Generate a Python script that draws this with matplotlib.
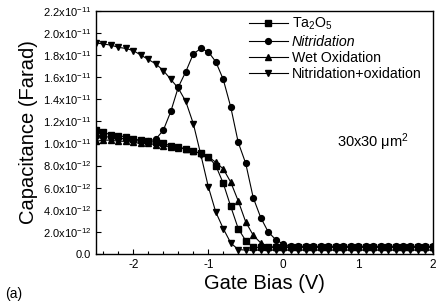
import numpy as np
import matplotlib
matplotlib.use("Agg")
import matplotlib.pyplot as plt
from matplotlib.ticker import MultipleLocator, FixedLocator

plt.rcParams['font.family'] = ['Liberation Sans', 'DejaVu Sans']
plt.rcParams['mathtext.fontset'] = 'custom'
plt.rcParams['mathtext.rm'] = 'Liberation Sans'
plt.rcParams['mathtext.it'] = 'Liberation Sans:italic'
plt.rcParams['axes.unicode_minus'] = False

# Gate bias grid (V), 0.1 V steps
bias = np.round(np.arange(-2.5, 2.0001, 0.1), 2)

# Capacitance in units of 1e-11 F
ta2o5_head = [1.12, 1.10, 1.08, 1.07, 1.06, 1.04, 1.03, 1.02, 1.01, 1.00,
              0.98, 0.97, 0.95, 0.93, 0.91, 0.88, 0.80, 0.64, 0.43, 0.23,
              0.12, 0.06]
nitr_head = [1.07, 1.06, 1.06, 1.05, 1.04, 1.03, 1.02, 1.02, 1.04, 1.12,
             1.29, 1.51, 1.65, 1.81, 1.86, 1.83, 1.74, 1.58, 1.33, 1.01,
             0.82, 0.51, 0.33, 0.20, 0.13, 0.09]
wet_head = [1.02, 1.03, 1.03, 1.02, 1.02, 1.01, 1.00, 1.00, 0.99, 0.98,
            0.97, 0.96, 0.95, 0.93, 0.91, 0.88, 0.83, 0.77, 0.65, 0.48,
            0.29, 0.17, 0.10]
nitrox_head = [1.91, 1.90, 1.89, 1.87, 1.86, 1.84, 1.80, 1.76, 1.72, 1.66,
               1.58, 1.50, 1.38, 1.18, 0.90, 0.61, 0.38, 0.23, 0.10, 0.04]

ta2o5 = ta2o5_head + [0.06] * (len(bias) - len(ta2o5_head))
nitridation = nitr_head + [0.07] * (len(bias) - len(nitr_head))
wet_ox = wet_head + [0.065] * (len(bias) - len(wet_head))
nitr_ox = nitrox_head + [0.035] * (len(bias) - len(nitrox_head))

series = [
    (ta2o5, 's', r'Ta$_2$O$_5$'),
    (nitridation, 'o', 'Nitridation'),
    (wet_ox, '^', 'Wet Oxidation'),
    (nitr_ox, 'v', 'Nitridation+oxidation'),
]

yticks = np.arange(0, 2.21, 0.2)
ytick_labels = ['0.0'] + [r'%.1fx10$^{-12}$' % (v * 10) for v in yticks[1:5]] + \
               [r'%.1fx10$^{-11}$' % v for v in yticks[5:]]

fig = plt.figure(figsize=(4.4, 3.02), dpi=100)
ax = fig.add_axes([0.218, 0.159, 0.766, 0.805])

for vals, marker, label in series:
    ax.plot(bias, np.array(vals) * 1e-11, color='black', lw=0.8,
            marker=marker, markersize=4.2, label=label)

ax.set_xlim(-2.5, 2.0)
ax.set_ylim(0, 2.2e-11)
ax.xaxis.set_major_locator(MultipleLocator(1))
ax.xaxis.set_minor_locator(MultipleLocator(0.2))
ax.yaxis.set_major_locator(FixedLocator(yticks * 1e-11))
ax.set_yticklabels(ytick_labels)
ax.tick_params(which='both', direction='in', width=0.8)
ax.tick_params(axis='y', labelsize=8)
ax.tick_params(axis='x', labelsize=8.5)
ax.tick_params(which='major', length=3.5)
ax.tick_params(which='minor', length=2)
for s in ax.spines.values():
    s.set_linewidth(1.0)

ax.set_xlabel('Gate Bias (V)', fontsize=14.5, labelpad=2)
ax.set_ylabel('Capacitance (Farad)', fontsize=14.5, labelpad=3)

leg = ax.legend(loc='upper right', bbox_to_anchor=(0.985, 1.005), frameon=False,
                fontsize=10.2, handlelength=2.8, handletextpad=0.25,
                labelspacing=0.16, borderaxespad=0.2, borderpad=0.25)
leg.get_texts()[1].set_style('italic')

ax.text(1.2, 1.01e-11, '30x30 μm$^2$', fontsize=10.5, ha='center', va='center')
fig.text(0.012, 0.012, '(a)', fontsize=10)

fig.savefig('out.png', dpi=100)
